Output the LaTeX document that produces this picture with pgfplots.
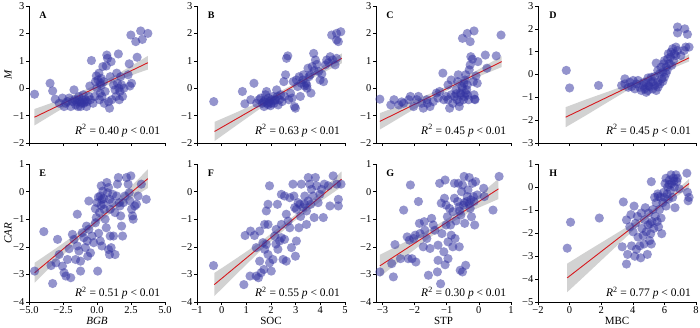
\documentclass[border=0pt]{standalone}
\usepackage{pgfplots}
\pgfplotsset{compat=1.18}
\usepackage{fontspec}
\setmainfont{Liberation Serif}
\definecolor{ptcol}{RGB}{50,50,160}
\definecolor{bandcol}{RGB}{210,210,210}
\definecolor{lincol}{RGB}{215,25,30}
\pgfplotsset{
 panel/.style={
  scale only axis, enlargelimits=false,
  axis x line*=bottom, axis y line*=left,
  axis line style={-, line width=0.6pt, black},
  every outer x axis line/.append style={-},
  every outer y axis line/.append style={-},
  tick align=outside, major tick length=3pt,
  tick style={black, line width=0.6pt},
  ticklabel style={font=\fontsize{10.5}{12}\selectfont},
  xticklabel style={inner sep=1.5pt},
  yticklabel style={inner sep=1.5pt},
  xlabel style={at={(axis description cs:0.5,-0.14)}, anchor=center, font=\fontsize{11}{13}\selectfont},
  ylabel style={at={(axis description cs:-0.155,0.5)}, anchor=center, font=\fontsize{11}{13}\selectfont},
 },
 row1/.style={height=137pt, ymin=-2, ymax=3, ytick={-2,-1,0,1,2,3}, yticklabels={−2,−1,0,1,2,3}, xticklabels={}},
 row2/.style={height=138pt, ymin=-4, ymax=1, ytick={-4,-3,-2,-1,0,1}, yticklabels={−4,−3,−2,−1,0,1}},
 pts/.style={only marks, mark=*, mark size=4.6pt, mark options={draw=ptcol, fill=ptcol, fill opacity=0.52, draw opacity=0}},
 band/.style={fill=bandcol, draw=none},
 rline/.style={draw=lincol, line width=0.9pt, no marks},
}
\newcommand{\letter}[1]{\node[anchor=west, font=\bfseries\fontsize{10}{12}\selectfont] at (rel axis cs:0.05,0.93) {#1};}
\newcommand{\rtext}[2]{\node[anchor=east, font=\fontsize{11.5}{13}\selectfont] at (rel axis cs:0.99,#2) {\textit{R}\textsuperscript{2} = #1 \textit{p} < 0.01};}
\begin{document}
\begin{tikzpicture}[x=1pt,y=1pt]
% ---------------- A ----------------
\begin{axis}[panel, row1, at={(29pt,184pt)}, anchor=south west, width=136pt,
  xmin=-5, xmax=5, xtick={-5,-2.5,0,2.5,5}, ylabel={\textit{M}}]
\addplot[band] coordinates {(-4.6,-0.76) (-3,-0.478) (-1.5,-0.2) (0,0.138) (1.5,0.516) (3,0.954) (3.74,1.18) (3.74,0.68) (3,0.554) (1.5,0.276) (0,-0.062) (-1.5,-0.44) (-3,-0.878) (-4.6,-1.36)};
\addplot[pts] coordinates {
(-4.59,-0.22) (-3.45,0.18) (-3.26,-0.1) (-3.07,-0.4) (-2.78,-0.55) (-2.54,-0.36) (-2.42,-0.67) (-2.17,-0.49) (-2.05,-0.36) (-1.93,-0.67) (-1.81,-0.49) (-1.69,-0.06) (-1.64,-0.42) (-1.57,-0.61) (-1.45,-0.42) (-1.4,-0.67) (-1.33,-0.3) (-1.26,-0.49) (-1.21,-0.67) (-1.09,-0.42) (-1.01,-0.24) (-0.97,-0.55) (-0.85,-0.42) (-0.77,-0.67) (-0.72,-0.49) (-0.6,-0.3) (-0.53,0.08) (-0.41,1.01) (-0.29,-0.55) (-0.17,-0.3) (-0.12,0.24) (-0.05,0.45) (0,0) (0.07,0.3) (0.14,0.55) (0.19,-0.42) (0.24,0.18) (0.31,0.36) (0.36,-0.3) (0.43,0.79) (0.48,0.24) (0.53,-0.55) (0.6,-0.12) (0.68,0.81) (0.72,1.21) (0.77,1.09) (0.85,-0.49) (0.92,-0.73) (0.97,0.42) (1.04,0.97) (1.09,-0.42) (1.21,0.12) (1.33,-0.06) (1.4,-0.3) (1.45,0.55) (1.5,0.18) (1.57,1.25) (1.64,-0.42) (1.69,-0.12) (1.74,0.42) (1.81,0.12) (1.88,-0.3) (1.98,0) (2.29,0.49) (2.37,0.89) (2.42,0.08) (2.49,1.94) (2.54,0.18) (2.85,1.7) (2.95,1.13) (3.21,2.09) (3.33,1.78) (3.74,2.0) (0.24,-0.18) (-0.48,-0.42) (-2.3,-0.55) (-1.5,-0.5) (-1.15,-0.55) (-0.9,-0.5) (1.6,0.0) (0.3,0.1)};
\addplot[rline] coordinates {(-4.6,-1.06) (3.74,0.93)};
\letter{A}
\rtext{0.40}{0.09}
\end{axis}
% ---------------- B ----------------
\begin{axis}[panel, row1, at={(197pt,184pt)}, anchor=south west, width=148pt,
  xmin=-1, xmax=5, xtick={-1,0,1,2,3,4,5}]
\addplot[band] coordinates {(-0.29,-1.23) (0.5,-0.921) (1.5,-0.524) (2.8,0.089) (4,0.76) (4.87,1.27) (4.87,0.91) (4,0.52) (2.8,-0.051) (1.5,-0.784) (0.5,-1.421) (-0.29,-1.93)};
\addplot[pts] coordinates {
(-0.32,-0.49) (0.84,-0.12) (0.94,-0.57) (1.18,-0.42) (1.31,0.18) (1.42,-0.55) (1.51,-0.42) (1.58,-0.36) (1.65,-0.55) (1.72,-0.67) (1.76,-0.42) (1.78,-0.24) (1.82,-0.12) (1.85,-0.55) (1.89,-0.36) (1.94,-0.49) (1.98,-0.64) (2.02,-0.42) (2.08,-0.3) (2.12,-0.55) (2.18,-0.42) (2.25,-0.3) (2.29,-0.61) (2.35,-0.42) (2.39,-0.24) (2.45,-0.49) (2.52,0.24) (2.55,-0.3) (2.59,0.49) (2.63,1.09) (2.68,1.18) (2.72,-0.42) (2.79,-0.18) (2.86,-0.36) (2.9,0.24) (2.95,-0.67) (2.99,-0.73) (3.03,0.3) (3.08,0.06) (3.14,0.42) (3.19,-0.3) (3.23,0.18) (3.3,0.3) (3.32,0.49) (3.36,0.08) (3.42,0.18) (3.46,0) (3.5,0.73) (3.54,0.42) (3.59,0.49) (3.62,-0.18) (3.67,0.79) (3.73,1.27) (3.75,0.64) (3.8,1.03) (3.86,0.87) (3.93,0.61) (3.99,0.3) (4.06,0.52) (4.13,0.24) (4.2,0.85) (4.26,1.03) (4.33,0.93) (4.4,1.15) (4.5,1.03) (4.6,0.85) (4.66,1.09) (4.46,1.94) (4.66,2.0) (4.83,2.06) (4.66,1.76) (4.73,1.7) (2.23,-0.06) (1.7,-0.5) (2.0,-0.55) (2.15,-0.45) (1.88,-0.6) (3.45,0.1)};
\addplot[rline] coordinates {(-0.29,-1.58) (4.87,1.09)};
\letter{B}
\rtext{0.63}{0.09}
\end{axis}
% ---------------- C ----------------
\begin{axis}[panel, row1, at={(376pt,184pt)}, anchor=south west, width=135pt,
  xmin=-3.2, xmax=1, xtick={-3,-2,-1,0,1}]
\addplot[band] coordinates {(-3.08,-0.91) (-2.3,-0.562) (-1.5,-0.191) (-0.8,0.171) (0,0.691) (0.71,1.17) (0.71,0.77) (0,0.431) (-0.8,0.031) (-1.5,-0.411) (-2.3,-0.962) (-3.08,-1.51)};
\addplot[pts] coordinates {
(-3.08,-0.4) (-2.74,-0.61) (-2.64,-0.42) (-2.49,-0.61) (-2.34,-0.55) (-2.18,-0.42) (-2.13,-0.3) (-2.03,-0.67) (-1.93,-0.42) (-1.88,-0.3) (-1.78,-0.55) (-1.73,-0.73) (-1.62,-0.42) (-1.52,-0.67) (-1.42,-0.49) (-1.32,-0.18) (-1.27,-0.36) (-1.22,-0.12) (-1.12,0.55) (-1.09,-0.42) (-1.02,-0.3) (-0.96,-0.42) (-0.91,-0.73) (-0.86,-0.24) (-0.81,-0.55) (-0.76,-0.3) (-0.71,-0.06) (-0.68,-0.42) (-0.66,0.24) (-0.64,0.49) (-0.61,-0.67) (-0.58,-0.18) (-0.56,-0.24) (-0.53,0.06) (-0.51,0) (-0.48,-0.42) (-0.46,0.18) (-0.43,0.3) (-0.41,0.49) (-0.38,-0.06) (-0.36,0.12) (-0.32,-0.42) (-0.3,0.67) (-0.27,0.85) (-0.25,1.15) (-0.2,1.06) (-0.17,0.24) (-0.15,-0.24) (-0.12,-0.42) (-0.09,0.45) (-0.05,0.18) (-0.03,0.97) (0.2,1.21) (0.25,0.73) (0.54,1.18) (-0.51,1.82) (-0.36,2.0) (-0.15,2.09) (-0.27,1.7) (0.69,1.94) (-0.86,0.3) (-0.96,0.12) (-0.41,-0.18) (-0.13,-0.4) (-0.6,-0.5) (-0.45,-0.3) (-0.7,-0.2) (-0.35,-0.25) (-1.6,-0.55) (-2.4,-0.5)};
\addplot[rline] coordinates {(-3.08,-1.21) (0.71,0.97)};
\letter{C}
\rtext{0.45}{0.09}
\end{axis}
% ---------------- D ----------------
\begin{axis}[panel, row1, at={(538pt,184pt)}, anchor=south west, width=158pt,
  ymin=-3, ytick={-3,-2,-1,0,1,2,3}, yticklabels={−3,−2,−1,0,1,2,3},
  xmin=-2, xmax=8, xtick={-2,0,2,4,6,8}]
\addplot[band] coordinates {(-0.25,-1.43) (1,-1.104) (2.5,-0.735) (4,-0.355) (5,-0.052) (6,0.291) (7.56,0.89) (7.56,0.57) (6,0.131) (5,-0.192) (4,-0.555) (2.5,-1.175) (1,-1.804) (-0.25,-2.31)};
\addplot[pts] coordinates {
(-0.21,0.18) (0,-0.59) (1.83,-0.48) (3.29,-0.48) (3.5,-0.19) (3.71,-0.56) (3.81,-0.34) (4.02,-0.26) (4.13,-0.63) (4.23,-0.41) (4.33,-0.26) (4.44,-0.56) (4.54,-0.7) (4.65,-0.48) (4.75,-0.63) (4.85,-0.38) (4.96,-0.7) (5.06,-0.53) (5.17,-0.34) (5.27,-0.63) (5.38,-0.48) (5.48,-0.7) (5.58,-0.34) (4.96,-0.15) (5.17,-0.12) (5.38,-0.09) (5.48,0.5) (5.58,0.18) (5.69,0.03) (5.79,0.32) (5.9,0.1) (5.96,0.47) (6.0,0.61) (6.1,0.32) (6.21,0.69) (6.25,0.91) (6.31,0.47) (6.38,0.76) (6.42,0.98) (6.52,1.13) (6.63,0.91) (6.73,1.2) (6.83,1.05) (6.73,0.83) (6.58,0.61) (6.46,0.4) (6.17,0.18) (5.83,-0.19) (5.71,-0.41) (6.0,-0.12) (6.83,2.08) (6.83,1.82) (7.29,2.0) (7.46,1.76) (7.35,1.2) (7.56,1.2) (7.25,1.05) (7.04,0.83) (3.5,-0.41) (3.92,-0.53) (4.85,-0.78) (5.27,-0.3) (4.7,-0.35) (5.0,-0.5) (5.6,-0.55) (6.1,0.05) (5.9,-0.3)};
\addplot[rline] coordinates {(-0.25,-1.87) (7.56,0.73)};
\letter{D}
\rtext{0.45}{0.09}
\end{axis}
% ---------------- E ----------------
\begin{axis}[panel, row2, at={(29pt,25pt)}, anchor=south west, width=136pt,
  xmin=-5, xmax=5, xtick={-5,-2.5,0,2.5,5}, xticklabels={−5.0,−2.5,0.0,2.5,5.0},
  xlabel={\textit{BGB}}, ylabel={\textit{CAR}}]
\addplot[band] coordinates {(-4.59,-2.58) (-3,-2.049) (-1.5,-1.525) (0,-0.941) (1.5,-0.297) (3,0.437) (3.74,0.81) (3.74,0.13) (3,-0.103) (1.5,-0.597) (0,-1.181) (-1.5,-1.825) (-3,-2.529) (-4.59,-3.3)};
\addplot[pts] coordinates {
(-4.59,-2.88) (-3.91,-1.45) (-3.38,-2.68) (-3.26,-3.33) (-2.9,-1.73) (-2.78,-2.28) (-3.02,-2.58) (-2.54,-2.7) (-2.42,-2.94) (-2.29,-3.06) (-2.17,-2.46) (-2.05,-2.07) (-1.93,-3.12) (-1.81,-1.55) (-1.69,-1.73) (-1.57,-2.46) (-1.45,-1.97) (-1.33,-2.15) (-1.21,-2.52) (-1.09,-1.49) (-0.97,-1.67) (-0.85,-2.03) (-0.77,-1.25) (-0.72,-1.79) (-0.68,-2.34) (-0.6,-1.37) (-0.48,-2.22) (-0.36,-1.61) (-0.24,-1.85) (-0.12,-1.13) (-0.12,-0.62) (-0.05,-0.94) (0,-0.4) (0.05,-2.88) (0.12,-1.51) (0.19,-0.76) (0.24,-0.16) (0.31,0.21) (0.36,-0.28) (0.43,0.02) (0.48,-0.46) (0.53,-0.64) (0.6,-1.0) (0.68,-1.31) (0.72,0.33) (0.77,-0.04) (0.85,0.15) (0.92,-0.28) (0.97,-0.64) (1.04,-2.03) (1.09,-0.4) (1.16,-0.1) (1.21,-1.61) (1.33,-0.76) (1.45,-0.16) (1.5,0.27) (1.57,0.51) (1.64,-0.4) (1.69,-0.52) (1.74,-0.88) (1.81,-1.25) (1.88,-1.61) (1.93,-0.4) (2.05,-0.16) (2.17,0.51) (2.29,0.27) (2.37,-0.04) (2.42,-0.34) (2.49,0.57) (2.54,-0.64) (2.61,-0.88) (2.66,-1.0) (2.78,-0.52) (2.9,-0.46) (3.02,-0.16) (3.26,0.27) (3.62,-0.28) (0.97,-1.61) (1.33,-2.28) (0.85,-2.1) (0.36,-1.97) (0.24,-1.79) (-0.6,-0.34) (-1.45,-0.82) (-1.21,-2.88) (0.92,-2.28) (0.1,-0.2) (0.5,-0.25) (0.3,-0.5)};
\addplot[rline] coordinates {(-4.59,-2.94) (3.74,0.47)};
\letter{E}
\rtext{0.51}{0.065}
\end{axis}
% ---------------- F ----------------
\begin{axis}[panel, row2, at={(197pt,25pt)}, anchor=south west, width=148pt,
  xmin=-1, xmax=5, xtick={-1,0,1,2,3,4,5}, xticklabels={−1,0,1,2,3,4,5},
  xlabel={SOC}]
\addplot[band] coordinates {(-0.3,-2.95) (0.5,-2.478) (1.5,-1.868) (2.9,-0.902) (4,-0.018) (4.86,0.73) (4.86,0.17) (4,-0.358) (2.9,-1.102) (1.5,-2.208) (0.5,-3.078) (-0.3,-3.79)};
\addplot[pts] coordinates {
(-0.33,-2.68) (0.9,-3.37) (0.95,-1.59) (1.17,-1.43) (1.33,-1.59) (1.54,-1.43) (1.15,-3.06) (1.4,-3.06) (1.49,-3.12) (1.6,-2.94) (1.71,-2.82) (1.67,-1.85) (1.74,-2.09) (1.81,-1.91) (1.74,-1.19) (1.81,-0.7) (1.88,-0.46) (1.94,0.21) (1.88,-1.19) (1.88,-2.28) (1.94,-2.58) (2.01,-2.88) (2.08,-2.46) (2.15,-1.61) (2.21,-1.37) (2.26,-0.46) (2.28,-2.09) (2.35,-1.79) (2.42,-1.67) (2.42,-1.19) (2.49,-2.46) (2.55,-1.73) (2.55,-0.16) (2.62,-2.52) (2.62,-0.82) (2.69,-1.07) (2.76,-0.22) (2.76,-1.31) (2.83,-2.03) (2.89,0.27) (2.93,-0.16) (2.96,-0.58) (2.99,-2.34) (3.03,-0.64) (3.03,-1.79) (3.1,-0.4) (3.13,-1.31) (3.17,-0.46) (3.23,0.27) (3.3,-0.58) (3.37,-0.16) (3.44,-0.7) (3.44,-1.19) (3.51,0.51) (3.51,-0.34) (3.57,0.27) (3.61,-0.46) (3.64,0.08) (3.71,-0.16) (3.75,-0.94) (3.8,0.51) (3.85,0.21) (3.91,-0.4) (3.98,-0.1) (4.05,0.08) (4.12,-0.94) (4.16,0.27) (4.32,0.21) (4.39,-0.52) (4.52,0.57) (4.66,0.27) (4.73,-0.28) (4.73,-0.52) (4.84,0.27) (2.42,-0.1) (1.4,-2.03) (1.54,-2.52) (2.2,-1.9) (3.35,-0.45) (3.2,-0.9)};
\addplot[rline] coordinates {(-0.3,-3.37) (4.86,0.45)};
\letter{F}
\rtext{0.55}{0.065}
\end{axis}
% ---------------- G ----------------
\begin{axis}[panel, row2, at={(376pt,25pt)}, anchor=south west, width=135pt,
  xmin=-3.2, xmax=1, xtick={-3,-2,-1,0,1}, xticklabels={−3,−2,−1,0,1},
  xlabel={STP}]
\addplot[band] coordinates {(-3.08,-2.29) (-2.3,-1.83) (-1.5,-1.345) (-0.9,-0.922) (-0.2,-0.342) (0.61,0.47) (0.61,-0.27) (-0.2,-0.682) (-0.9,-1.162) (-1.5,-1.645) (-2.3,-2.37) (-3.08,-3.09)};
\addplot[pts] coordinates {
(-3.08,-2.91) (-2.71,-2.61) (-2.66,-3.09) (-2.61,-1.92) (-2.44,-2.43) (-2.34,-0.67) (-2.23,-1.64) (-2.2,-2.43) (-2.16,-1.76) (-2.13,0.24) (-2.08,-2.43) (-2.03,-1.7) (-1.98,-1.58) (-1.96,-2.55) (-1.88,-0.36) (-1.85,-1.15) (-1.83,-1.52) (-1.73,-2.0) (-1.7,-1.09) (-1.68,-1.4) (-1.62,-1.7) (-1.57,-3.03) (-1.52,-2.06) (-1.47,-0.97) (-1.42,-1.21) (-1.37,-1.4) (-1.29,-2.91) (-1.27,-2.49) (-1.27,-1.94) (-1.22,0.3) (-1.19,-3.34) (-1.17,-0.42) (-1.15,-1.52) (-1.09,-2.18) (-1.07,-0.24) (-1.05,0.42) (-1.05,-2.65) (-1.02,-0.49) (-1.02,-1.21) (-0.98,-0.91) (-0.96,-1.82) (-0.96,-2.43) (-0.91,-0.61) (-0.88,-1.21) (-0.86,-1.58) (-0.81,-2.0) (-0.81,-0.73) (-0.76,0.3) (-0.76,-0.24) (-0.74,-1.7) (-0.71,-1.06) (-0.66,-0.36) (-0.64,0.3) (-0.61,-0.55) (-0.61,-2.0) (-0.58,-2.85) (-0.56,-0.85) (-0.54,0.0) (-0.51,0.24) (-0.51,-2.91) (-0.48,-0.49) (-0.46,0.55) (-0.44,-1.15) (-0.41,-2.67) (-0.38,-0.36) (-0.36,-0.18) (-0.34,0.06) (-0.3,0.51) (-0.27,-0.61) (-0.25,-0.3) (-0.23,-0.91) (-0.2,0.3) (-0.17,-0.18) (-0.15,-0.36) (-0.13,-1.21) (-0.1,0.36) (-0.05,-0.12) (0.15,0.12) (0.17,-0.18) (0.44,-0.67) (0.63,0.55) (-0.6,-0.7) (-0.45,-0.4) (-0.3,-0.45)};
\addplot[rline] coordinates {(-3.08,-2.69) (0.61,0.1)};
\letter{G}
\rtext{0.30}{0.065}
\end{axis}
% ---------------- H ----------------
\begin{axis}[panel, row2, at={(538pt,25pt)}, anchor=south west, width=158pt,
  ymin=-5, ytick={-5,-4,-3,-2,-1,0,1}, yticklabels={−5,−4,−3,−2,−1,0,1},
  xmin=-2, xmax=8, xtick={-2,0,2,4,6,8}, xticklabels={−2,0,2,4,6,8},
  xlabel={MBC}]
\addplot[band] coordinates {(-0.15,-3.33) (1,-2.838) (2.5,-2.211) (4,-1.583) (5.2,-1.005) (6.5,-0.294) (7.56,0.35) (7.56,-0.05) (6.5,-0.534) (5.2,-1.205) (4,-1.903) (2.5,-2.871) (1,-3.838) (-0.15,-4.57)};
\addplot[pts] coordinates {
(-0.15,-2.66) (0.06,-1.53) (1.88,-1.35) (3.33,-2.6) (3.4,-0.65) (3.6,-1.43) (3.6,-3.35) (3.67,-2.93) (3.81,-1.73) (3.88,-1.2) (3.92,-2.56) (4.02,-1.95) (4.08,-0.83) (4.13,-3.01) (4.17,-1.58) (4.23,-2.71) (4.29,-1.28) (4.33,-2.18) (4.44,-2.56) (4.5,-3.08) (4.54,-1.13) (4.58,-1.8) (4.65,-2.11) (4.71,-2.48) (4.75,-1.43) (4.79,-0.9) (4.85,-1.95) (4.92,-2.93) (4.96,-1.65) (5.0,-1.13) (5.06,-2.33) (5.13,-2.03) (5.17,0.23) (5.17,-2.48) (5.21,-1.5) (5.27,-0.98) (5.33,-1.8) (5.38,-0.45) (5.42,-1.28) (5.48,-0.68) (5.54,-1.5) (5.58,-0.3) (5.63,-1.73) (5.69,-0.98) (5.75,-0.45) (5.79,-1.35) (5.83,-2.03) (5.9,-0.68) (5.96,-0.23) (6.0,-0.45) (6.04,0.15) (6.1,0.38) (6.1,-0.83) (6.17,-0.3) (6.21,0.0) (6.25,-0.53) (6.31,0.3) (6.38,-0.15) (6.42,0.53) (6.46,0.15) (6.52,-0.45) (6.58,0.38) (6.63,0.0) (6.67,-0.9) (6.73,0.53) (6.79,0.23) (6.83,0.38) (6.94,-0.08) (7.42,0.6) (7.46,-0.23) (7.5,-0.6) (7.56,-0.45) (5.6,-0.4) (6.3,0.1) (6.6,0.25) (5.1,-1.6)};
\addplot[rline] coordinates {(-0.15,-3.95) (7.56,0.15)};
\letter{H}
\rtext{0.77}{0.065}
\end{axis}
\pgfresetboundingbox
\useasboundingbox (0,0) rectangle (700,327);
\end{tikzpicture}
\end{document}
